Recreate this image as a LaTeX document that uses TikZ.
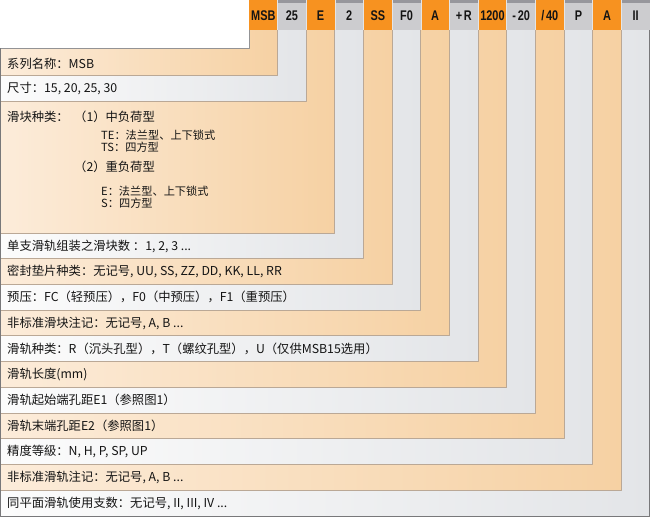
\documentclass[tikz,border=0pt]{standalone}
\usepackage{fontspec}
\setmainfont{Noto Sans CJK SC}
\newfontfamily\hdfont{Liberation Sans}
\definecolor{hdorange}{RGB}{247,146,32}
\definecolor{hdgray}{RGB}{204,204,207}
\definecolor{hdtop}{RGB}{150,150,156}
\definecolor{bandoL}{RGB}{252,236,218}
\definecolor{bandoR}{RGB}{246,209,163}
\definecolor{bandgL}{RGB}{252,252,252}
\definecolor{bandgR}{RGB}{227,229,232}
\definecolor{edge}{RGB}{186,168,150}
\definecolor{frame}{RGB}{120,120,122}
\definecolor{ink}{RGB}{20,20,20}
\begin{document}
\begin{tikzpicture}[x=1pt, y=-1pt, line join=round, font=\fontsize{12.3}{14}\selectfont, text=ink]
    \def\cw{28.643} \def\cx{249} \def\hh{30} \def\wb{48}
				\tikzset{hdtext/.style={font=\hdfont\bfseries\fontsize{14}{15}\selectfont, xscale=0.78, inner sep=0pt},
				rowtext/.style={anchor=west, inner sep=0pt},
				subtext/.style={anchor=west, inner sep=0pt, font=\fontsize{11.2}{13}\selectfont},
				edgeline/.style={draw=edge, line width=0.9pt}}
				\useasboundingbox (0,0) rectangle (650,517);
				\foreach \k/\bot/\cl/\cr in {14/516/bandgL/bandgR, 13/490.3/bandoL/bandoR, 12/464.5/bandgL/bandgR, 11/438.8/bandoL/bandoR, 10/413.1/bandgL/bandgR, 9/387.4/bandoL/bandoR, 8/361.6/bandgL/bandgR, 7/335.9/bandoL/bandoR, 6/310.2/bandgL/bandgR, 5/284.5/bandoL/bandoR, 4/258.7/bandgL/bandgR, 3/233/bandoL/bandoR, 2/101/bandgL/bandgR, 1/75/bandoL/bandoR} {
					\pgfmathsetmacro\rx{\cx+\k*\cw}
					\shade[left color=\cl, right color=\cr] (0,0) rectangle (\rx,\bot);
					\draw[edgeline] (0,\bot) -- (\rx,\bot) -- (\rx,\hh);
				}
				\fill[white] (0,0) rectangle (\cx,\wb);
				\draw[draw=frame!80, line width=0.9pt] (0,\wb) -- (\cx,\wb) -- (\cx,0);
				\draw[draw=frame, line width=1pt] (0.5,\wb) -- (0.5,516.5) -- (649.5,516.5) -- (649.5,\hh);
				\foreach \i/\txt/\col in {1/MSB/hdorange, 2/25/hdgray, 3/E/hdorange, 4/2/hdgray, 5/SS/hdorange, 6/F0/hdgray, 7/A/hdorange, 8/{+\,R}/hdgray, 9/1200/hdorange, 10/{-\,20}/hdgray, 11/{/\,40}/hdorange, 12/P/hdgray, 13/A/hdorange, 14/II/hdgray} {
					\fill[\col] ({\cx+(\i-1)*\cw},0) rectangle ({\cx+\i*\cw},\hh);
					\node[hdtext] (h\i) at ({\cx+(\i-0.5)*\cw},16) {\txt};
				}
				\foreach \i in {2,4,...,14} \fill[hdtop] ({\cx+(\i-1)*\cw},0) rectangle ({\cx+\i*\cw},2.5);
				\foreach \i in {1,...,13} \draw[white!80!gray, line width=0.6pt] ({\cx+\i*\cw},0) -- ({\cx+\i*\cw},\hh);
				\foreach \k/\y/\txt in {1/64/{系列名称：MSB}, 2/88/{尺寸：15, 20, 25, 30}, 4/246/{单支滑轨组装之滑块数 ：1, 2, 3 ...}, 5/271.6/{密封垫片种类：无记号, UU, SS, ZZ, DD, KK, LL, RR}, 6/297.3/{预压：FC（轻预压），F0（中预压），F1（重预压）}, 7/323/{非标准滑块注记：无记号, A, B ...}, 8/348.8/{滑轨种类：R（沉头孔型），T（螺纹孔型），U（仅供MSB15选用）}, 9/374.5/{滑轨长度(mm)}, 10/400.2/{滑轨起始端孔距E1（参照图1）}, 11/426/{滑轨末端孔距E2（参照图1）}, 12/451.7/{精度等級：N, H, P, SP, UP}, 13/477.4/{非标准滑轨注记：无记号, A, B ...}, 14/503.1/{同平面滑轨使用支数：无记号, II, III, IV ...}} \node[rowtext] (r\k) at (7,\y) {\txt};
				\node[rowtext] (r3) at (7,117) {滑块种类：};
				\node[rowtext] (r3a) at (74,117) {（1）中负荷型};
				\node[subtext] (r3b) at (101,135) {TE：法兰型、上下锁式};
				\node[subtext] (r3c) at (101,147) {TS：四方型};
				\node[rowtext] (r3d) at (74,167) {（2）重负荷型};
				\node[subtext] (r3e) at (101,191) {E：法兰型、上下锁式};
				\node[subtext] (r3f) at (101,203) {S：四方型};
    \end{tikzpicture}
\end{document}
